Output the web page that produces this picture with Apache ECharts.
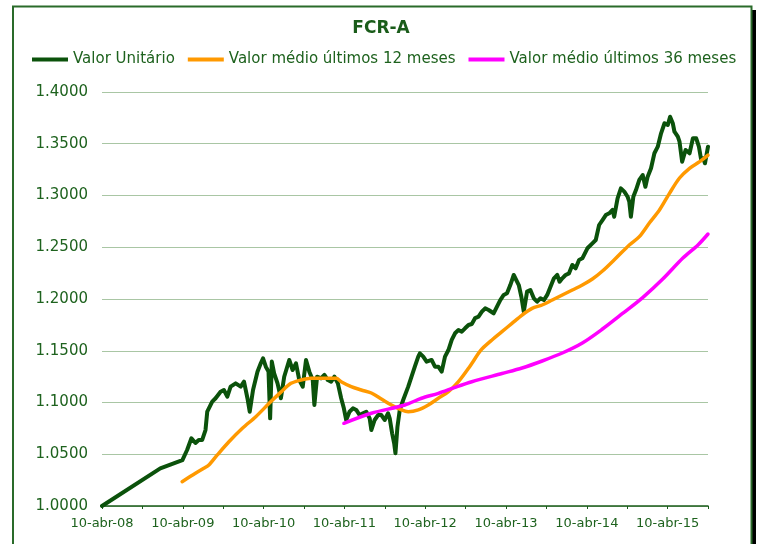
<!DOCTYPE html>
<html>
<head>
<meta charset="utf-8">
<script src="https://cdn.jsdelivr.net/npm/echarts@6/dist/echarts.min.js"></script>
<style>html,body{margin:0;padding:0;background:#fff}#chart{width:762px;height:544px}</style>
</head>
<body>
<div id="chart"></div>
<script>
// x values are months since 10-abr-08
const xLabels = ['10-abr-08','10-abr-09','10-abr-10','10-abr-11','10-abr-12','10-abr-13','10-abr-14','10-abr-15'];
const seriesNames = ['Valor Unitário','Valor médio últimos 12 meses','Valor médio últimos 36 meses'];

const vuMonths = [0, 8.66, 11.94, 12.64, 13.28, 13.88, 14.37, 14.88, 15.37, 15.63,
  16.37, 16.87, 17.61, 18.10, 18.61, 19.10, 19.85, 20.60, 21.09, 21.60,
  21.94, 22.43, 23.09, 23.58, 23.92, 24.33, 24.73, 24.97, 25.22, 25.57,
  26.07, 26.57, 27.06, 27.81, 28.31, 28.81, 29.30, 29.81, 30.30, 30.79,
  31.30, 31.54, 31.94, 32.54, 33.03, 33.54, 34.03, 34.52, 35.03, 35.52,
  35.92, 36.27, 36.76, 37.27, 37.76, 38.25, 38.76, 39.25, 39.75, 40.00,
  40.49, 41.00, 41.49, 41.98, 42.49, 42.73, 43.09, 43.39, 43.58, 43.88,
  44.22, 44.73, 45.48, 45.97, 46.46, 46.97, 47.21, 47.71, 48.21, 48.95,
  49.45, 49.95, 50.45, 50.94, 51.45, 51.94, 52.43, 52.94, 53.43, 53.92,
  54.43, 54.92, 55.42, 55.92, 56.42, 56.91, 57.42, 58.16, 58.66, 59.15,
  59.66, 60.15, 60.64, 61.15, 61.39, 61.90, 62.28, 62.64, 63.13, 63.62,
  64.13, 64.62, 65.12, 65.63, 66.12, 66.61, 67.12, 67.61, 67.96, 68.36,
  68.85, 69.36, 69.85, 70.34, 70.85, 71.34, 72.09, 72.83, 73.33, 73.83,
  74.33, 74.82, 75.33, 75.82, 76.07, 76.57, 77.06, 77.57, 78.06, 78.31,
  78.55, 78.91, 79.30, 79.80, 80.30, 80.70, 81.04, 81.54, 82.04, 82.54,
  83.03, 83.54, 84.03, 84.37, 84.77, 85.02, 85.52, 85.77, 86.16, 86.67,
  87.26, 87.76, 88.25, 88.65, 88.99, 89.30, 89.55, 89.75, 90.00];
const vuValues = [1.0000, 1.0364, 1.0444, 1.0541, 1.0654, 1.0609, 1.0638, 1.0638, 1.0734, 1.0911,
  1.1008, 1.1041, 1.1104, 1.1121, 1.1056, 1.1153, 1.1185, 1.1153, 1.1201, 1.1041,
  1.0911, 1.1121, 1.1298, 1.1379, 1.1427, 1.1346, 1.1298, 1.0847, 1.1395, 1.1282,
  1.1185, 1.1041, 1.1249, 1.1411, 1.1314, 1.1379, 1.1217, 1.1153, 1.1411, 1.1298,
  1.1217, 1.0976, 1.1249, 1.1234, 1.1266, 1.1217, 1.1201, 1.1249, 1.1185, 1.1041,
  1.0944, 1.0831, 1.0911, 1.0944, 1.0928, 1.0879, 1.0896, 1.0911, 1.0847, 1.0734,
  1.0831, 1.0879, 1.0879, 1.0831, 1.0896, 1.0847, 1.0702, 1.0606, 1.0509, 1.0766,
  1.0928, 1.1024, 1.1153, 1.1249, 1.1346, 1.1443, 1.1475, 1.1443, 1.1394, 1.1411,
  1.1346, 1.1346, 1.1298, 1.1443, 1.1507, 1.1604, 1.1669, 1.1700, 1.1684, 1.1717,
  1.1749, 1.1758, 1.1816, 1.1829, 1.1877, 1.1910, 1.1894, 1.1862, 1.1926, 1.1990,
  1.2039, 1.2055, 1.2135, 1.2232, 1.2248, 1.2135, 1.2022, 1.1877, 1.2071, 1.2087,
  1.2007, 1.1974, 1.2007, 1.1990, 1.2039, 1.2119, 1.2200, 1.2232, 1.2167, 1.2200,
  1.2232, 1.2248, 1.2329, 1.2297, 1.2377, 1.2393, 1.2490, 1.2538, 1.2570, 1.2715,
  1.2763, 1.2811, 1.2828, 1.2860, 1.2795, 1.2973, 1.3069, 1.3037, 1.2988, 1.2940,
  1.2795, 1.2988, 1.3053, 1.3150, 1.3198, 1.3085, 1.3182, 1.3263, 1.3408, 1.3472,
  1.3601, 1.3698, 1.3681, 1.3761, 1.3698, 1.3616, 1.3568, 1.3520, 1.3327, 1.3440,
  1.3408, 1.3553, 1.3553, 1.3472, 1.3343, 1.3359, 1.3311, 1.3295, 1.3472];

const m12Months = [11.90, 13.88, 15.12, 15.87, 17.12, 18.85, 20.85, 22.84, 24.82, 26.57,
  28.06, 29.55, 31.04, 32.54, 34.77, 35.52, 37.01, 38.51, 40.00, 41.49,
  42.98, 44.48, 45.48, 46.97, 48.46, 49.95, 51.45, 52.94, 54.43, 55.92,
  56.42, 57.91, 59.40, 60.89, 62.39, 63.88, 65.37, 66.87, 68.36, 69.85,
  71.34, 72.83, 74.33, 76.31, 78.31, 79.80, 81.29, 82.79, 84.28, 85.77,
  87.26, 88.76, 90.00];
const m12Values = [1.0235, 1.0316, 1.0364, 1.0396, 1.0493, 1.0621, 1.0751, 1.0863, 1.0992, 1.1100,
  1.1185, 1.1217, 1.1234, 1.1234, 1.1234, 1.1201, 1.1153, 1.1121, 1.1092, 1.1034,
  1.0976, 1.0928, 1.0911, 1.0928, 1.0976, 1.1041, 1.1104, 1.1201, 1.1330, 1.1475,
  1.1517, 1.1604, 1.1684, 1.1765, 1.1845, 1.1910, 1.1942, 1.1990, 1.2039, 1.2087,
  1.2135, 1.2193, 1.2270, 1.2393, 1.2522, 1.2602, 1.2734, 1.2860, 1.3021, 1.3169,
  1.3263, 1.3327, 1.3391];

const m36Months = [35.92, 40.00, 44.97, 47.46, 49.95, 52.43, 54.92, 59.40, 62.39, 65.37,
  68.36, 71.34, 74.33, 77.31, 80.30, 83.28, 86.27, 88.51, 90.00];
const m36Values = [1.0799, 1.0896, 1.0976, 1.1041, 1.1089, 1.1147, 1.1201, 1.1280, 1.1333, 1.1401,
  1.1478, 1.1575, 1.1710, 1.1860, 1.2014, 1.2193, 1.2396, 1.2522, 1.2628];

const pair = (xs, ys) => xs.slice(0, Math.min(xs.length, ys.length)).map((x, i) => [x, ys[i]]);

const TXT = '#1e621e';
const FONT = "'DejaVu Sans', Verdana, sans-serif";
const chart = echarts.init(document.getElementById('chart'), null, {renderer: 'canvas'});
chart.setOption({
  animation: false,
  backgroundColor: '#ffffff',
  textStyle: {fontFamily: FONT},
  title: {
    text: 'FCR-A', left: 'center', top: 20, padding: 0,
    textStyle: {fontFamily: FONT, fontSize: 17, fontWeight: 'bold', color: '#1a5c1a'}
  },
  legend: {
    left: 32, top: 52, padding: 0, itemWidth: 36, itemHeight: 4, itemGap: 13, icon: 'rect',
    textStyle: {fontFamily: FONT, fontSize: 15, color: TXT},
    data: seriesNames
  },
  grid: {left: 102, right: 54, top: 92, bottom: 38, containLabel: false},
  xAxis: {
    type: 'value', min: 0, max: 90, interval: 6,
    axisLine: {show: true, lineStyle: {color: '#1a5c1a', width: 1.5}},
    axisTick: {show: true, length: 3, lineStyle: {color: '#1a5c1a'}},
    splitLine: {show: false},
    axisLabel: {
      margin: 11, fontSize: 13, color: TXT, fontFamily: FONT, hideOverlap: false,
      formatter: v => (Math.round(v) % 12 === 0 ? (xLabels[Math.round(v) / 12] || '') : '')
    }
  },
  yAxis: {
    type: 'value', min: 1.0, max: 1.4, interval: 0.05,
    axisLine: {show: false}, axisTick: {show: false},
    splitLine: {show: true, lineStyle: {color: '#a9c6a4', width: 1}},
    axisLabel: {margin: 14, fontSize: 15, color: TXT, fontFamily: FONT,
      formatter: v => v.toFixed(4)}
  },
  series: [
    {name: seriesNames[0], type: 'line', data: pair(vuMonths, vuValues), showSymbol: false,
      color: '#0b520b', lineStyle: {width: 4, color: '#0b520b', cap: 'round', join: 'round'}},
    {name: seriesNames[1], type: 'line', data: pair(m12Months, m12Values), showSymbol: false, smooth: 0.3,
      color: '#ff9900', lineStyle: {width: 3.5, color: '#ff9900', cap: 'round', join: 'round'}},
    {name: seriesNames[2], type: 'line', data: pair(m36Months, m36Values), showSymbol: false, smooth: 0.3,
      color: '#ff00ff', lineStyle: {width: 3.5, color: '#ff00ff', cap: 'round', join: 'round'}}
  ],
  graphic: [
    {type: 'rect', silent: true, z: 100, shape: {x: 752, y: 10, width: 4, height: 540}, style: {fill: '#000000'}},
    {type: 'rect', silent: true, z: 101, shape: {x: 13, y: 6.5, width: 738.5, height: 560},
      style: {fill: 'none', stroke: '#2a6b2a', lineWidth: 2}}
  ]
});
</script>
</body>
</html>
